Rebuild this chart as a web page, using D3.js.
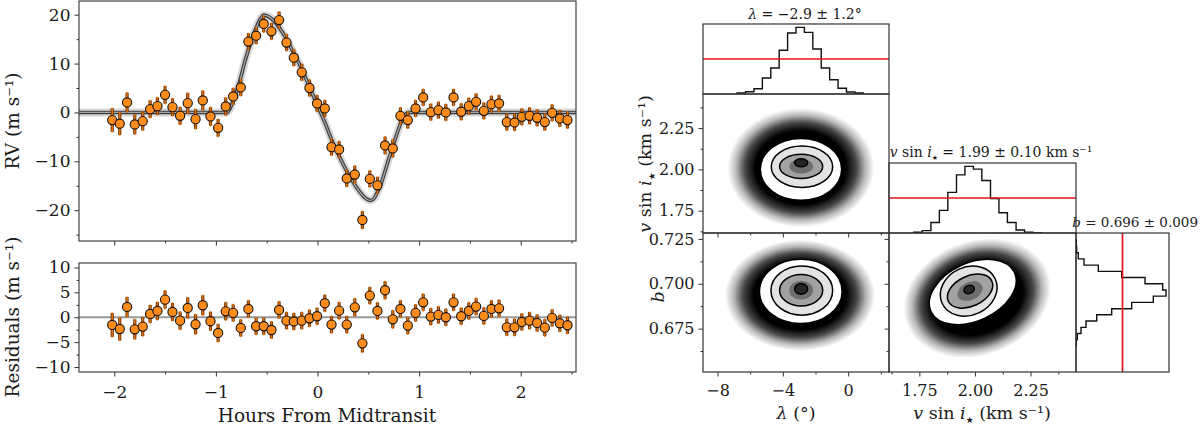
<!DOCTYPE html>
<html>
<head>
<meta charset="utf-8">
<script src="https://cdn.jsdelivr.net/npm/d3@7"></script>
<style>
  body { margin: 0; background: #fff; }
  text { font-family: 'DejaVu Serif', serif; fill: #1a1a1a; }
</style>
</head>
<body>
<svg id="chart" width="1200" height="428"></svg>
<script>
// ---- RV time series (hours from midtransit) ----
const hours = [-2.02,-1.946,-1.874,-1.798,-1.72,-1.647,-1.575,-1.50,-1.427,-1.352,
  -1.277,-1.20,-1.129,-1.053,-0.978,-0.903,-0.83,-0.755,-0.68,-0.604,
  -0.529,-0.453,-0.378,-0.305,-0.233,-0.155,-0.079,-0.004,0.072,0.138,
  0.213,0.288,0.367,0.442,0.515,0.59,0.665,0.741,0.816,0.889,
  0.965,1.04,1.115,1.19,1.263,1.339,1.414,1.489,1.561,1.637,
  1.712,1.787,1.863,1.939,2.011,2.087,2.161,2.237,2.309,2.385,2.46];
const rv = [-1.57,-2.3,2.04,-2.46,-1.78,0.67,1.29,3.6,1.08,-0.69,
  1.9,-1.37,2.45,-0.82,-3.14,1.23,3.27,5.11,14.5,15.7,
  18.1,16.6,18.9,14.3,11.2,8.2,5.0,1.84,0.82,-7.1,
  -7.57,-13.5,-12.7,-22.0,-13.6,-14.9,-6.75,-7.37,-0.69,-1.57,
  0.82,3.07,0.06,0.47,0.0,3.07,0.14,1.29,2.17,0.33,
  1.70,1.84,-1.98,-2.05,-0.9,-0.69,-1.1,-1.98,-0.08,-1.23,-1.57];
const rvErr = [2.4,2.3,2.0,2.0,1.9,1.8,1.8,1.8,1.8,1.8,
  2.1,2.0,2.0,1.9,1.8,1.8,1.7,1.7,1.7,1.7,
  1.7,1.7,1.7,1.7,1.7,1.7,1.7,1.7,1.7,1.7,
  1.7,1.7,1.8,1.8,1.7,1.7,1.8,1.8,1.7,1.7,
  1.7,1.7,1.7,1.7,1.7,1.7,1.7,1.7,1.7,1.7,
  1.7,1.7,1.7,1.7,1.7,1.7,1.7,1.7,1.7,1.7,1.7];
const resid = [-1.55,-2.36,2.07,-2.42,-1.88,0.66,1.27,3.54,1.07,-0.68,
  1.87,-1.41,2.41,-0.8,-3.16,1.2,0.87,-2.15,1.67,-1.81,
  -1.81,-2.56,1.47,-0.68,-0.85,-0.68,-0.2,0.2,2.82,-1.48,
  1.33,-1.48,2.0,-5.24,4.35,1.27,5.43,-0.41,1.67,-1.68,
  0.87,3.0,0.13,0.47,0.0,3.0,0.2,1.27,2.14,0.27,
  1.67,1.8,-2.02,-2.02,-0.95,-0.68,-1.15,-2.09,-0.13,-1.21,-1.61];

// best-fit Rossiter-McLaughlin model
const modelHours = [-2.35,-0.89,-0.86,-0.83,-0.79,-0.755,-0.72,-0.68,-0.64,-0.60,
  -0.56,-0.53,-0.50,-0.453,-0.378,-0.305,-0.233,-0.155,-0.079,-0.004,
  0.072,0.138,0.213,0.288,0.367,0.442,0.49,0.525,0.56,0.59,
  0.63,0.665,0.70,0.741,0.78,0.816,0.85,0.89,2.55];
const modelRV = [0,0,0.8,2.4,4.6,7.2,10.0,12.8,15.4,17.5,
  19.2,19.9,19.8,19.2,17.4,15.0,12.1,8.9,5.2,1.6,
  -2.0,-5.5,-8.9,-12.0,-14.8,-16.9,-17.8,-18.0,-17.5,-16.3,
  -14.3,-12.0,-9.6,-7.0,-4.5,-2.4,-0.9,0,0];

// ---- posterior histograms (bin edges + counts) ----
const lambdaEdges = [-6.80,-6.285,-5.77,-5.255,-4.74,-4.225,-3.71,-3.195,-2.68,-2.165,-1.65,-1.135,-0.62,-0.105,0.41,0.925];
const lambdaCounts = [30,69,159,480,780,1311,1830,2001,1851,1350,780,429,171,60,30];
const vsiniEdges = [1.725,1.763,1.802,1.840,1.878,1.917,1.955,1.993,2.031,2.070,2.108,2.146,2.185,2.223,2.261,2.300];
const vsiniCounts = [20,69,309,669,1200,1719,1971,1890,1551,1020,600,309,90,20,6];
const bEdges = [0.6653,0.6688,0.6723,0.6757,0.6792,0.6827,0.6861,0.6896,0.6931,0.6965,0.7000,0.7035,0.7069,0.7104,0.7139,0.7173,0.7208,0.7243];
const bCounts = [9,39,150,300,621,1071,1671,2319,2700,2601,2070,1371,669,240,69,20,9];
// uniform prior level drawn in red
const priorLevel = { lambda: 1050, vsini: 1035, b: 1395 };

// ---- 2D posterior shapes: sample cloud + contour levels (outer to inner) ----
const lamVsCloud = { cx: -2.9, cy: 2.01, rx: 4.5, ry: 0.36, rot: 0 };
const lamVsContours = [
  { cx: -2.89, cy: 2.000, rx: 2.49, ry: 0.187 },
  { cx: -2.83, cy: 2.016, rx: 1.88, ry: 0.125 },
  { cx: -2.88, cy: 2.018, rx: 1.32, ry: 0.073 },
  { cx: -2.88, cy: 2.040, rx: 0.40, ry: 0.024 }
];
const lamBCloud = { cx: -2.95, cy: 0.6935, rx: 4.6, ry: 0.031, rot: 0 };
const lamBContours = [
  { cx: -2.90, cy: 0.6957, rx: 2.53, ry: 0.0179 },
  { cx: -2.84, cy: 0.6962, rx: 1.89, ry: 0.0137 },
  { cx: -2.88, cy: 0.6964, rx: 1.32, ry: 0.0088 },
  { cx: -2.88, cy: 0.6971, rx: 0.40, ry: 0.0030 }
];
const vsBCloud = { cx: 2.01, cy: 0.692, rx: 0.34, ry: 0.032, rot: -20 };
const vsBContours = [
  { cx: 1.990, cy: 0.6954, rx: 0.207, ry: 0.0161, rot: -25 },
  { cx: 1.972, cy: 0.6959, rx: 0.1315, ry: 0.0134, rot: -25 },
  { cx: 1.978, cy: 0.6959, rx: 0.108, ry: 0.0084, rot: -25 },
  { cx: 1.974, cy: 0.6968, rx: 0.024, ry: 0.0023, rot: -20 }
];

// ---- tick values ----
const hourTicks = [-2, -1, 0, 1, 2];
const hourMinor = [-1.5, -0.5, 0.5, 1.5, 2.5];
const rvTicks = [-20, -10, 0, 10, 20];
const rvMinor = [-25, -15, -5, 5, 15];
const resTicks = [-10, -5, 0, 5, 10];
const resMinor = [-7.5, -2.5, 2.5, 7.5];
const lambdaTicks = [-8, -4, 0];
const lambdaMinor = [-6, -2, 2];
const vsiniTicks = [1.75, 2.00, 2.25];
const vsiniMinor = [1.625, 1.875, 2.125, 2.375];
const bTicks = [0.675, 0.700, 0.725];
const bMinor = [0.6625, 0.6875, 0.7125];

const svg = d3.select('#chart');
const defs = svg.append('defs');

// radial fade used for the dense MCMC sample cloud
const grad = defs.append('radialGradient').attr('id', 'cloud');
[[0, 1], [0.62, 1], [0.76, 0.72], [0.88, 0.28], [1, 0]].forEach(([o, a]) => {
  grad.append('stop').attr('offset', o).attr('stop-color', '#000').attr('stop-opacity', a);
});

let clipId = 0;
function panel(x0, y0, x1, y1) {
  const id = 'clip' + (clipId++);
  defs.append('clipPath').attr('id', id)
    .append('rect').attr('x', x0).attr('y', y0).attr('width', x1 - x0).attr('height', y1 - y0);
  return svg.append('g').attr('clip-path', `url(#${id})`);
}
function frame(x0, y0, x1, y1, color) {
  svg.append('rect').attr('x', x0).attr('y', y0).attr('width', x1 - x0).attr('height', y1 - y0)
    .attr('fill', 'none').attr('stroke', color || '#333').attr('stroke-width', 1.2);
}

// major + minor ticks, outward, matplotlib style
function drawAxis(scale, orient, pos, major, minor, fmt, opt) {
  opt = opt || {};
  const make = orient === 'bottom' ? d3.axisBottom : d3.axisLeft;
  const tr = orient === 'bottom' ? `translate(0,${pos})` : `translate(${pos},0)`;
  const gm = svg.append('g').attr('transform', tr).attr('color', '#333')
    .call(make(scale).tickValues(minor).tickSize(2.5).tickFormat(''));
  gm.select('.domain').remove();
  const g = svg.append('g').attr('transform', tr).attr('color', '#333')
    .call(make(scale).tickValues(major).tickSize(4.5).tickPadding(opt.pad || 5)
      .tickFormat(opt.hide ? '' : fmt));
  g.select('.domain').remove();
  g.attr('font-family', "'DejaVu Serif', serif").attr('font-size', opt.size || 16);
  g.selectAll('text').attr('fill', '#1a1a1a');
}

function richText(x, y, parts, size, anchor, rotate) {
  const t = svg.append('text')
    .attr('transform', `translate(${x},${y})` + (rotate ? ` rotate(${rotate})` : ''))
    .attr('text-anchor', anchor || 'middle').attr('font-size', size);
  parts.forEach(p => {
    const ts = t.append('tspan').text(p.t);
    if (p.it) ts.attr('font-style', 'italic');
    if (p.sub) ts.attr('font-size', size * 0.5).attr('dy', size * 0.22)
      .attr('font-family', "'DejaVu Sans', sans-serif");
    if (p.back) ts.attr('dy', -size * 0.22);
  });
  return t;
}
const vsiniLabel = [{ t: 'v', it: true }, { t: ' sin ' }, { t: 'i', it: true }, { t: '★', sub: true }];

// ================= left: RV and residuals =================
const L = { x0: 79, x1: 576, top: [1, 241], bot: [263, 372] };
const x = d3.scaleLinear().domain([-2.347, 2.544]).range([L.x0, L.x1]);
const yRV = d3.scaleLinear().domain([-26.3, 22.8]).range([L.top[1], L.top[0]]);
const yRes = d3.scaleLinear().domain([-11, 10.9]).range([L.bot[1], L.bot[0]]);

const pts = hours.map((h, i) => ({ h, rv: rv[i], err: rvErr[i], res: resid[i] }));
const model = modelHours.map((h, i) => ({ h, v: modelRV[i] }));

// model: light band of posterior draws, then outlined best-fit line
const gTop = panel(L.x0, L.top[0], L.x1, L.top[1]);
const modelLine = d3.line().x(d => x(d.h)).y(d => yRV(d.v)).curve(d3.curveMonotoneX);
gTop.append('path').datum(model).attr('d', modelLine)
  .attr('fill', 'none').attr('stroke', '#cfcfcf').attr('stroke-width', 8).attr('opacity', 0.8);
gTop.append('path').datum(model).attr('d', modelLine)
  .attr('fill', 'none').attr('stroke', '#3c3c3c').attr('stroke-width', 3.6);
gTop.append('path').datum(model).attr('d', modelLine)
  .attr('fill', 'none').attr('stroke', '#a8a8a8').attr('stroke-width', 1.3);

function drawPoints(g, yScale, key) {
  g.selectAll('.eb').data(pts).enter().append('line')
    .attr('x1', d => x(d.h)).attr('x2', d => x(d.h))
    .attr('y1', d => yScale(d[key] - d.err)).attr('y2', d => yScale(d[key] + d.err))
    .attr('stroke', '#6b3300').attr('stroke-width', 3.2);
  g.selectAll('.eb2').data(pts).enter().append('line')
    .attr('x1', d => x(d.h)).attr('x2', d => x(d.h))
    .attr('y1', d => yScale(d[key] - d.err) + 0.6).attr('y2', d => yScale(d[key] + d.err) - 0.6)
    .attr('stroke', '#e0700f').attr('stroke-width', 1.5);
  g.selectAll('.pt').data(pts).enter().append('circle')
    .attr('cx', d => x(d.h)).attr('cy', d => yScale(d[key])).attr('r', 4.6)
    .attr('fill', '#ff8c1a').attr('stroke', '#111').attr('stroke-width', 1.1);
}
drawPoints(gTop, yRV, 'rv');
frame(L.x0, L.top[0], L.x1, L.top[1], '#444');

const gBot = panel(L.x0, L.bot[0], L.x1, L.bot[1]);
gBot.append('line').attr('x1', L.x0).attr('x2', L.x1)
  .attr('y1', yRes(0)).attr('y2', yRes(0)).attr('stroke', '#9a9a9a').attr('stroke-width', 2);
drawPoints(gBot, yRes, 'res');
frame(L.x0, L.bot[0], L.x1, L.bot[1], '#444');

drawAxis(x, 'bottom', L.top[1], hourTicks, hourMinor, d3.format('d'), { hide: true });
drawAxis(x, 'bottom', L.bot[1], hourTicks, hourMinor, d3.format('d'), { pad: 9, size: 17 });
drawAxis(yRV, 'left', L.x0, rvTicks, rvMinor, d3.format('d'), { pad: 4, size: 17 });
drawAxis(yRes, 'left', L.x0, resTicks, resMinor, d3.format('d'), { pad: 4, size: 17 });

svg.append('text').attr('x', 327).attr('y', 422).attr('text-anchor', 'middle')
  .attr('font-size', 18.5).text('Hours From Midtransit');
richText(19, 121, [{ t: 'RV (m s⁻¹)' }], 18.5, 'middle', -90);
richText(19, 317, [{ t: 'Residuals (m s⁻¹)' }], 18.5, 'middle', -90);

// ================= right: corner plot =================
const C1 = [703, 889], C2 = [889, 1076], C3 = [1076, 1169];
const R1 = [24, 94], R2 = [94, 233], R3 = [233, 372], RV2 = [163, 233];

const lamX = d3.scaleLinear().domain([-8.89, 2.5]).range(C1);
const vX = d3.scaleLinear().domain([1.6135, 2.4545]).range(C2);
const vY = d3.scaleLinear().domain([1.615, 2.456]).range([R2[1], R2[0]]);
const bY = d3.scaleLinear().domain([0.6508, 0.7283]).range([R3[1], R3[0]]);
const lamH = d3.scaleLinear().domain([0, 2101]).range([R1[1], R1[0]]);
const vH = d3.scaleLinear().domain([0, 2070]).range([RV2[1], RV2[0]]);
const bH = d3.scaleLinear().domain([0, 2790]).range(C3);

function stepPoints(edges, counts) {
  const out = [[edges[0], 0]];
  counts.forEach((c, i) => { out.push([edges[i], c]); out.push([edges[i + 1], c]); });
  out.push([edges[edges.length - 1], 0]);
  return out;
}

function drawHist(g, edges, counts, xs, ys, vertical) {
  const line = vertical
    ? d3.line().x(d => xs(d[1])).y(d => ys(d[0]))
    : d3.line().x(d => xs(d[0])).y(d => ys(d[1]));
  g.append('path').datum(stepPoints(edges, counts)).attr('d', line)
    .attr('fill', 'none').attr('stroke', '#111').attr('stroke-width', 1.4);
}

function drawDensity(g, xs, ys, cloud, contours) {
  const ell = (c, fill, stroke, sw) => {
    const cx = xs(c.cx), cy = ys(c.cy);
    g.append('ellipse').attr('cx', cx).attr('cy', cy)
      .attr('rx', Math.abs(xs(c.cx + c.rx) - cx)).attr('ry', Math.abs(ys(c.cy + c.ry) - cy))
      .attr('transform', `rotate(${c.rot || 0},${cx},${cy})`)
      .attr('fill', fill).attr('stroke', stroke || 'none').attr('stroke-width', sw || 0);
  };
  ell(cloud, 'url(#cloud)');
  const fills = ['#ffffff', '#e3e3e3', '#a2a2a2', '#262626'];
  contours.forEach((c, i) => {
    ell(c, fills[i], '#000', 1.5);
    if (i === 2) ell({ ...c, rx: c.rx * 0.55, ry: c.ry * 0.6 }, '#6e6e6e');
  });
}

// lambda histogram
const gH1 = panel(C1[0], R1[0], C1[1], R1[1]);
drawHist(gH1, lambdaEdges, lambdaCounts, lamX, lamH, false);
gH1.append('line').attr('x1', C1[0]).attr('x2', C1[1])
  .attr('y1', lamH(priorLevel.lambda)).attr('y2', lamH(priorLevel.lambda))
  .attr('stroke', '#e3141c').attr('stroke-width', 1.7);
frame(C1[0], R1[0], C1[1], R1[1]);

// lambda vs vsini
const gA = panel(C1[0], R2[0], C1[1], R2[1]);
drawDensity(gA, lamX, vY, lamVsCloud, lamVsContours);
frame(C1[0], R2[0], C1[1], R2[1]);

// vsini histogram
const gH2 = panel(C2[0], RV2[0], C2[1], RV2[1]);
drawHist(gH2, vsiniEdges, vsiniCounts, vX, vH, false);
gH2.append('line').attr('x1', C2[0]).attr('x2', C2[1])
  .attr('y1', vH(priorLevel.vsini)).attr('y2', vH(priorLevel.vsini))
  .attr('stroke', '#e3141c').attr('stroke-width', 1.7);
frame(C2[0], RV2[0], C2[1], RV2[1]);

// lambda vs b
const gB = panel(C1[0], R3[0], C1[1], R3[1]);
drawDensity(gB, lamX, bY, lamBCloud, lamBContours);
frame(C1[0], R3[0], C1[1], R3[1]);

// vsini vs b
const gC = panel(C2[0], R3[0], C2[1], R3[1]);
drawDensity(gC, vX, bY, vsBCloud, vsBContours);
frame(C2[0], R3[0], C2[1], R3[1]);

// b histogram (rotated)
const gH3 = panel(C3[0], R3[0], C3[1], R3[1]);
drawHist(gH3, bEdges, bCounts, bH, bY, true);
gH3.append('line').attr('y1', R3[0]).attr('y2', R3[1])
  .attr('x1', bH(priorLevel.b)).attr('x2', bH(priorLevel.b))
  .attr('stroke', '#e3141c').attr('stroke-width', 1.7);
frame(C3[0], R3[0], C3[1], R3[1]);

// corner axes
drawAxis(lamX, 'bottom', R3[1], lambdaTicks, lambdaMinor, d3.format('d'), { pad: 8 });
drawAxis(vX, 'bottom', R3[1], vsiniTicks, vsiniMinor, d3.format('.2f'), { pad: 8 });
drawAxis(lamX, 'bottom', R2[1], lambdaTicks, lambdaMinor, null, { hide: true });
drawAxis(vY, 'left', C1[0], vsiniTicks, vsiniMinor, d3.format('.2f'), { pad: 4 });
drawAxis(bY, 'left', C1[0], bTicks, bMinor, d3.format('.3f'), { pad: 4 });
drawAxis(bY, 'left', C2[0], bTicks, bMinor, null, { hide: true });

// titles
richText(805, 19, [{ t: 'λ', it: true }, { t: ' = −2.9 ± 1.2°' }], 14);
richText(991, 157, vsiniLabel.concat([{ t: ' = 1.99 ± 0.10 km s⁻¹', back: true }]), 14);
richText(1198, 227, [{ t: 'b', it: true }, { t: ' = 0.696 ± 0.009' }], 13.5, 'end');

// axis labels
richText(796, 419, [{ t: 'λ', it: true }, { t: ' (°)' }], 17.5);
richText(982, 419, vsiniLabel.concat([{ t: ' (km s⁻¹)', back: true }]), 17.5);
richText(651, 164, vsiniLabel.concat([{ t: ' (km s⁻¹)', back: true }]), 17.5, 'middle', -90);
richText(664, 297, [{ t: 'b', it: true }], 17.5, 'middle', -90);
</script>
</body>
</html>
